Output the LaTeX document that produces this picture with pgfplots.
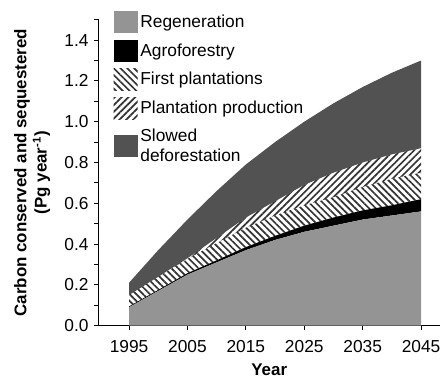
\documentclass[border=0pt,12pt]{standalone}
\usepackage{fontspec}
\setmainfont{Liberation Sans}
\usepackage{pgfplots}
\usepackage{pgfplotstable}
\pgfplotsset{compat=1.18}
\usetikzlibrary{patterns,patterns.meta}

\pgfplotstableread{
year R A FP PP SD
1995 0.09 0.004 0.056 0.000 0.06
2000 0.17 0.005 0.065 0.000 0.13
2005 0.25 0.007 0.070 0.003 0.19
2010 0.31 0.010 0.085 0.025 0.23
2015 0.37 0.015 0.095 0.050 0.26
2020 0.42 0.020 0.100 0.070 0.29
2025 0.46 0.030 0.100 0.100 0.31
2030 0.49 0.040 0.100 0.120 0.34
2035 0.52 0.045 0.115 0.120 0.37
2040 0.54 0.050 0.130 0.120 0.40
2045 0.56 0.060 0.130 0.120 0.43
}\datatable

\begin{document}
\begin{tikzpicture}
\begin{axis}[
  scale only axis,
  width=242pt, height=217pt,
  xmin=1989.8, xmax=2048.2,
  ymin=0, ymax=1.5,
  axis lines*=left,
  axis line style={line width=0.8pt},
  tick align=outside,
  tick style={line width=0.7pt, black},
  major tick length=3pt,
  minor tick length=3pt,
  xtick={1995,2005,2015,2025,2035,2045},
  x tick label style={/pgf/number format/1000 sep={}, yshift=-3pt},
  ytick={0,0.2,...,1.4},
  minor ytick={0.1,0.3,...,1.5},
  y tick label style={/pgf/number format/.cd,fixed,fixed zerofill,precision=1},
  tick label style={font=\fontsize{12.3}{14}\selectfont},
  /pgf/number format/assume math mode=true,
  xlabel={\textbf{Year}},
  ylabel={\textbf{Carbon conserved and sequestered}\\\textbf{(Pg year\textsuperscript{-1})}},
  ylabel style={align=center, at={(axis description cs:-0.195,0.5)}, anchor=center},
  xlabel style={at={(axis description cs:0.5,-0.145)}, anchor=center},
  stack plots=y,
  legend cell align=left,
  legend style={draw=none, fill=none, at={(axis description cs:0.043,1.03)}, anchor=north west,
    cells={align=left}, row sep=5pt, inner sep=0pt,
    font=\fontsize{12.3}{14}\selectfont,
    /tikz/every even column/.append style={column sep=4pt}},
  legend image code/.code={\path[#1] (0pt,-7.5pt) rectangle (17pt,8pt);},
]
\addplot[draw=none, fill=black!42] table[x=year,y=R] {\datatable} \closedcycle;
\addlegendentry{Regeneration}
\addplot[draw=none, fill=black] table[x=year,y=A] {\datatable} \closedcycle;
\addlegendentry{Agroforestry}
\addplot[draw=none, pattern={Lines[angle=-45,distance=3.4pt,line width=1.2pt]}, pattern color=black!80] table[x=year,y=FP] {\datatable} \closedcycle;
\addlegendentry{First plantations}
\addplot[draw=none, pattern={Lines[angle=45,distance=3.4pt,line width=1.2pt]}, pattern color=black!80] table[x=year,y=PP] {\datatable} \closedcycle;
\addlegendentry{Plantation production}
\addplot[draw=none, fill=black!68] table[x=year,y=SD] {\datatable} \closedcycle;
\addlegendentry{Slowed\\deforestation}
\end{axis}
\useasboundingbox ([shift={(-70pt,-34.3pt)}]current axis.south west) rectangle ([shift={(0pt,14pt)}]current axis.north east);
\end{tikzpicture}
\end{document}
